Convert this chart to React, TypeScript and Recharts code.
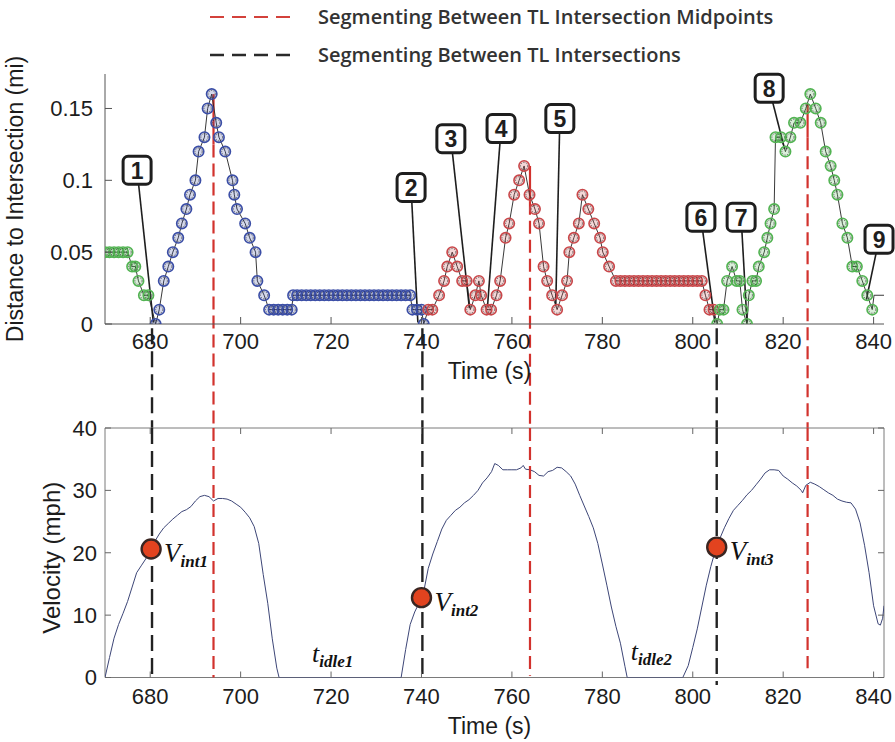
import React from 'react';
import {
  ComposedChart, Line, Scatter, XAxis, YAxis, ReferenceLine, ReferenceDot,
  ReferenceArea, Legend, Label,
} from 'recharts';

type Pt = [number, number];

// ---------- Top panel: distance to intersection (mi) vs time (s) ----------
const greenLeadIn: Pt[] = [
  [670, 0.05], [671, 0.05], [672, 0.05], [673, 0.05], [674, 0.05], [675, 0.05],
  [676, 0.04], [676.7, 0.04], [677.4, 0.03], [678.6, 0.02], [679.6, 0.02],
];
const blueSegment: Pt[] = [
  [681.2, 0], [682, 0.01], [683, 0.03], [684, 0.04], [685, 0.05], [686.2, 0.06], [687, 0.07],
  [688, 0.08], [688.8, 0.09], [690, 0.1], [690.7, 0.12], [692, 0.13], [692.7, 0.15], [693.6, 0.16],
  [694.6, 0.14], [695.2, 0.13], [696.6, 0.12], [698.2, 0.1], [698.6, 0.09], [699.2, 0.08],
  [701, 0.07], [702, 0.06], [703.3, 0.05], [703.7, 0.03], [705.2, 0.02], [706.3, 0.01],
  [707.3, 0.01], [708.3, 0.01], [709.3, 0.01], [710.3, 0.01], [711.3, 0.01], [711.6, 0.02],
  [712.5, 0.02], [713.5, 0.02], [714.5, 0.02], [715.5, 0.02], [716.5, 0.02], [717.5, 0.02],
  [718.5, 0.02], [719.5, 0.02], [720.5, 0.02], [721.5, 0.02], [722.5, 0.02], [723.5, 0.02],
  [724.5, 0.02], [725.5, 0.02], [726.5, 0.02], [727.5, 0.02], [728.5, 0.02], [729.5, 0.02],
  [730.5, 0.02], [731.5, 0.02], [732.5, 0.02], [733.5, 0.02], [734.5, 0.02], [735.5, 0.02],
  [736.5, 0.02], [737.5, 0.02], [738, 0.01], [739, 0.01], [740, 0.01], [740.5, 0],
];
const redSegment: Pt[] = [
  [741.5, 0.01], [742.4, 0.01], [743.9, 0.02], [745, 0.03], [745.7, 0.04], [746.8, 0.05],
  [747.9, 0.04], [749, 0.03], [750, 0.03], [750.8, 0.01], [751.9, 0.02], [752.7, 0.03],
  [753.2, 0.02], [754.4, 0.01], [755.4, 0.01], [756.6, 0.02], [757.4, 0.03], [758.6, 0.06],
  [759.4, 0.07], [760.5, 0.09], [761.6, 0.1], [762.7, 0.11], [763.9, 0.09], [765.1, 0.08],
  [766, 0.07], [767, 0.04], [767.8, 0.03], [768.9, 0.02], [770, 0.01], [771.1, 0.02],
  [772.2, 0.03], [772.7, 0.05], [773.7, 0.06], [774.8, 0.07], [775.6, 0.09], [776.9, 0.08],
  [778.2, 0.07], [779.5, 0.06], [780.1, 0.05], [781.5, 0.04], [783, 0.03], [784, 0.03],
  [785, 0.03], [786, 0.03], [787, 0.03], [788, 0.03], [789, 0.03], [790, 0.03], [791, 0.03],
  [792, 0.03], [793, 0.03], [794, 0.03], [795, 0.03], [796, 0.03], [797, 0.03], [798, 0.03],
  [799, 0.03], [800, 0.03], [801, 0.03], [802, 0.03], [802.8, 0.02], [803.7, 0.01], [804.6, 0.01],
];
const greenApproach: Pt[] = [
  [805.4, 0], [806, 0.01], [806.8, 0.01], [807.6, 0.03], [808.7, 0.04], [809.7, 0.03],
  [810.4, 0.03], [811, 0.01], [812, 0], [812.4, 0.02], [813.2, 0.03], [814, 0.03],
  [814.6, 0.04], [815.8, 0.05], [816.5, 0.06], [817.2, 0.07], [818, 0.08], [818.3, 0.13],
  [819.5, 0.13], [820.5, 0.12], [821.6, 0.13], [822.4, 0.14], [823.8, 0.14], [825, 0.15],
  [826, 0.16], [827.2, 0.15], [828.3, 0.14], [829.4, 0.12], [830.5, 0.11], [831.3, 0.1],
  [832, 0.09], [833.1, 0.07], [834.2, 0.06], [835.3, 0.04], [836.3, 0.04], [837.5, 0.03],
  [838.6, 0.02], [839.7, 0.01],
];
const traceTail: Pt[] = [[840.1, 0.02], [842.3, 0.02]];

// ---------- Bottom panel: velocity (mph) vs time (s) ----------
const velocityTrace: Pt[] = [
  [670, 0], [671, 3.2], [672, 6.3], [673, 8.5], [674, 10.3], [675, 12.2], [676, 14.5],
  [677, 16.8], [678, 17.9], [679, 19.0], [680, 20.3], [681, 21.8], [682, 23.0], [683, 24.0],
  [684, 24.7], [685, 25.4], [686, 26.0], [687, 26.6], [688, 26.9], [689, 27.4], [690, 28.3],
  [691, 29.0], [692, 29.2], [693, 29.0], [694, 28.3], [695, 28.7], [696, 28.7], [697, 28.6],
  [698, 28.3], [699, 27.8], [700, 27.3], [701, 26.5], [702, 25.6], [703, 24.2], [704, 21.5],
  [705, 16.5], [706, 11.9], [707, 6.2], [708, 1.5], [708.5, 0], [735.5, 0], [736.5, 4.5],
  [737.5, 8.5], [738.5, 10.5], [739.5, 12.0], [740.5, 13.8], [741.5, 17.5], [742.5, 19.8],
  [743.5, 21.8], [744.5, 23.8], [745.5, 25.2], [746.5, 26.0], [747.5, 26.8], [748.5, 27.3],
  [749.5, 28.0], [750.5, 28.5], [751.5, 29.2], [752.5, 30.0], [753.5, 31.2], [754.5, 32.0],
  [755.5, 33.0], [756.2, 34.3], [757, 34.0], [758, 33.3], [759, 33.3], [760, 33.3], [761, 33.3],
  [762, 33.6], [762.5, 34.0], [763, 33.4], [764, 33.3], [765, 33.0], [766, 32.4], [767, 32.3],
  [768, 33.0], [769, 33.2], [770, 33.7], [771, 33.6], [772, 33.0], [773, 32.3], [774, 31.0],
  [775, 29.2], [776, 27.5], [777, 25.8], [778, 24.0], [779, 21.5], [780, 18.2], [781, 14.8],
  [782, 11.3], [783, 8.2], [784, 5.5], [785, 1.8], [785.5, 0], [797.8, 0], [799, 1.9],
  [800, 4.8], [801, 7.8], [802, 11.3], [803, 14.8], [804, 17.8], [805, 20.4], [806, 22.3],
  [807, 24.0], [808, 25.5], [809, 26.8], [810, 27.6], [811, 28.4], [812, 29.3], [813, 30.0],
  [814, 30.9], [815, 31.8], [816, 32.8], [817, 33.3], [818, 33.3], [819, 33.2], [820, 32.3],
  [821, 31.8], [822, 31.2], [823, 30.7], [824, 30.0], [824.3, 29.6], [825, 30.8], [826, 31.3],
  [827, 31.0], [828, 30.6], [829, 30.1], [830, 29.6], [831, 29.2], [832, 28.6], [833, 28.3],
  [834, 28.1], [835, 28.0], [836, 27.0], [837, 24.8], [838, 21.2], [839, 16.8], [840, 11.5],
  [841, 8.6], [841.5, 8.4], [842, 9.5], [842.3, 11.5],
];

const intersectionTimes = [680.2, 740, 805.3];
const intersectionVelocities = [20.6, 12.8, 20.9];
const intersectionNames = ['int1', 'int2', 'int3'];

const idleTimes = [715.8, 786.3];
const idleHeights = [2.5, 2.8];
const idleNames = ['idle1', 'idle2'];

// ---------- segmentation markers ----------
const midpointTimes = [694, 764, 825.4];
const midpointPeak = [0.16, 0.11, 0.153];
const midpointDashFrom = [0.125, 0.085, 0.13];
const midpointVelEnd = [0, 0.3, 1.5];
const tlIntersectionTimes = [680.4, 740.2, 805.3];
const tlIntersectionVelEnd = [0, -0.3, -1.2];

// ---------- callout annotations (data coordinates) ----------
const calloutNumbers = ['1', '2', '3', '4', '5', '6', '7', '8', '9'];
const calloutBoxAt: Pt[] = [
  [677.1, 0.107], [737.7, 0.095], [746.5, 0.129], [757.6, 0.136], [770.6, 0.143],
  [801.8, 0.0743], [810.7, 0.0743], [816.9, 0.164], [841.2, 0.059],
];
const calloutTipAt: Pt[] = [
  [680.7, 0.001], [739.2, 0.001], [750.6, 0.011], [754.6, 0.012], [769.7, 0.013],
  [804.9, 0.001], [812, 0.001], [820.3, 0.122], [838.4, 0.017],
];

const timeTicks = [680, 700, 720, 740, 760, 780, 800, 820, 840];
const distanceTicks = [0, 0.05, 0.1, 0.15];
const velocityTicks = [0, 10, 20, 30, 40];

const legendEntries = [
  { label: 'Segmenting Between TL Intersection Midpoints', color: '#d3413b', width: 2 },
  { label: 'Segmenting Between TL Intersections', color: '#2a2a2a', width: 2.6 },
];

// ---------- styling constants ----------
const X_DOMAIN: [number, number] = [670, 842.3];
const SANS = 'Liberation Sans, Arial, sans-serif';
const SERIF = 'Liberation Serif, Times New Roman, serif';
const TICK_FILL = '#1c1c1c';
const RED = '#d2322d';
const BLACK_DASH = '#222';
const BOT_PLOT_W = 779;
const BOT_PLOT_H = 249.5;
const TOP_CUT = -0.0725; // bottom edge of the top panel svg, in distance units
const BOT_TOP = 40;

const toDist = (pts: Pt[]) => pts.map(([t, d]) => ({ t, d }));
const toVel = (pts: Pt[]) => pts.map(([t, v]) => ({ t, v }));

const traceData = toDist([...greenLeadIn, ...blueSegment, ...redSegment, ...greenApproach, ...traceTail]);
const velData = toVel(velocityTrace);
const intersectionData = intersectionTimes.map((t, i) => ({ t, v: intersectionVelocities[i], name: intersectionNames[i] }));

const makeMarker = (color: string) => (p: any) => {
  if (p.cx == null || p.cy == null) return <g />;
  return (
    <g>
      <circle cx={p.cx} cy={p.cy} r={5.2} fill={color} fillOpacity={0.22} stroke={color} strokeWidth={1.6} />
      <circle cx={p.cx} cy={p.cy} r={3.6} fill="none" stroke="#222" strokeWidth={0.6} strokeDasharray="1.4 1.2" />
    </g>
  );
};

const TopTimeTick = (p: any) => (
  <g>
    <line x1={p.x} x2={p.x} y1={p.y} y2={p.y - 7} stroke="#555" strokeWidth={1} />
    <text x={p.x} y={p.y + 25} textAnchor="middle" fontFamily={SANS} fontSize={22} fill={TICK_FILL}>
      {p.payload.value}
    </text>
  </g>
);

const DistTick = (p: any) => (
  <g>
    <line x1={p.x} x2={p.x + 7} y1={p.y} y2={p.y} stroke="#555" strokeWidth={1} />
    <text x={p.x - 12} y={p.y} dy="0.36em" textAnchor="end" fontFamily={SANS} fontSize={22} fill={TICK_FILL}>
      {String(p.payload.value)}
    </text>
  </g>
);

const BotTimeTick = (p: any) => (
  <g>
    <line x1={p.x} x2={p.x} y1={p.y} y2={p.y - 6} stroke="#666" strokeWidth={1} />
    <line x1={p.x} x2={p.x} y1={p.y - BOT_PLOT_H} y2={p.y - BOT_PLOT_H + 6} stroke="#666" strokeWidth={1} />
    <text x={p.x} y={p.y + 26} textAnchor="middle" fontFamily={SANS} fontSize={22} fill={TICK_FILL}>
      {p.payload.value}
    </text>
  </g>
);

const VelTick = (p: any) => (
  <g>
    <line x1={p.x} x2={p.x + 6} y1={p.y} y2={p.y} stroke="#666" strokeWidth={1} />
    <line x1={p.x + BOT_PLOT_W} x2={p.x + BOT_PLOT_W - 6} y1={p.y} y2={p.y} stroke="#666" strokeWidth={1} />
    <text x={p.x - 8} y={p.y} dy="0.36em" textAnchor="end" fontFamily={SANS} fontSize={22} fill={TICK_FILL}>
      {p.payload.value}
    </text>
  </g>
);

const timeTitle = (baselineOffset: number) => (props: any) => {
  const vb = props.viewBox || {};
  return (
    <text x={vb.x + vb.width / 2 - 5} y={vb.y + baselineOffset} textAnchor="middle" fontFamily={SANS} fontSize={23} fill={TICK_FILL}>
      Time (s)
    </text>
  );
};

const yTitle = (text: string, dx: number, dy: number, size: number) => (props: any) => {
  const vb = props.viewBox || {};
  const x = vb.x + dx;
  const y = vb.y + vb.height / 2 + dy;
  return (
    <text x={x} y={y} transform={`rotate(-90, ${x}, ${y})`} textAnchor="middle" fontFamily={SANS} fontSize={size} fill={TICK_FILL}>
      {text}
    </text>
  );
};

const calloutShape = (n: string) => (p: any) => (
  <g>
    <rect x={p.cx - 14} y={p.cy - 14} width={28} height={28} rx={5} fill="#fff" stroke="#1e1e1e" strokeWidth={3} />
    <text x={p.cx} y={p.cy} dy="0.36em" textAnchor="middle" fontFamily={SANS} fontWeight="bold" fontSize={23} fill="#1e1e1e">
      {n}
    </text>
  </g>
);

const intersectionShape = (p: any) => {
  if (p.cx == null || p.cy == null) return <g />;
  const name = p.payload?.name ?? '';
  return (
    <g>
      <circle cx={p.cx} cy={p.cy} r={9.5} fill="#e2431f" stroke="#3a2622" strokeWidth={2.4} />
      <text x={p.cx + 13} y={p.cy + 13} fontFamily={SERIF} fontStyle="italic" fontSize={27} fill="#111">
        V
        <tspan fontSize={17} fontWeight="bold" dy={5}>{name}</tspan>
      </text>
    </g>
  );
};

const idleShape = (name: string) => (p: any) => (
  <g>
    <text x={p.cx} y={p.cy} fontFamily={SERIF} fontStyle="italic" fontSize={26} fill="#111">
      t
      <tspan fontSize={17} fontWeight="bold" dy={5}>{name}</tspan>
    </text>
  </g>
);

const renderLegend = () => (
  <svg width={895} height={72} style={{ display: 'block' }}>
    {legendEntries.map((e, i) => (
      <g key={e.label}>
        <line x1={210} x2={292} y1={17 + i * 38} y2={17 + i * 38} stroke={e.color} strokeWidth={e.width} strokeDasharray="14 8" />
        <text x={318} y={24 + i * 38} fontFamily="Open Sans, sans-serif" fontWeight={600} fontSize={20} fill="#333">
          {e.label}
        </text>
      </g>
    ))}
  </svg>
);

export default function App() {
  return (
    <div style={{ position: 'absolute', left: 0, top: 0, width: 895, height: 742, background: '#fff', overflow: 'hidden' }}>
      <div style={{ position: 'absolute', left: 0, top: 0 }}>
        <ComposedChart width={895} height={428} margin={{ top: 74, right: 11, bottom: 64, left: 45 }}>
          <Legend
            content={renderLegend}
            layout="horizontal"
            verticalAlign="middle"
            align="center"
            wrapperStyle={{ position: 'absolute', top: 0, left: 0, width: 895, height: 72 }}
          />
          <XAxis
            type="number" dataKey="t" domain={X_DOMAIN} allowDataOverflow ticks={timeTicks} interval={0}
            tickSize={0} tickMargin={0} tickLine={false} tick={<TopTimeTick />} height={40}
            axisLine={{ stroke: '#555', strokeWidth: 1 }}
            label={<Label content={timeTitle(54.5)} />}
          />
          <YAxis
            type="number" dataKey="d" domain={[0, 0.174]} allowDataOverflow ticks={distanceTicks} interval={0}
            tickSize={0} tickMargin={0} tickLine={false} tick={<DistTick />} width={60}
            axisLine={{ stroke: '#555', strokeWidth: 1 }}
            label={<Label content={yTitle('Distance to Intersection (mi)', -22, 0, 23)} />}
          />
          {midpointTimes.map((t, i) => (
            <ReferenceLine key={`mp-solid-${i}`} ifOverflow="visible" stroke={RED} strokeWidth={2.2}
              segment={[{ x: t, y: midpointPeak[i] }, { x: t, y: midpointDashFrom[i] }]} />
          ))}
          {midpointTimes.map((t, i) => (
            <ReferenceLine key={`mp-dash-${i}`} ifOverflow="visible" stroke={RED} strokeWidth={2.2} strokeDasharray="13 6"
              segment={[{ x: t, y: midpointDashFrom[i] }, { x: t, y: TOP_CUT }]} />
          ))}
          {tlIntersectionTimes.map((t, i) => (
            <ReferenceLine key={`tl-dash-${i}`} ifOverflow="visible" stroke={BLACK_DASH} strokeWidth={2.4} strokeDasharray="16 7"
              segment={[{ x: t, y: -0.003 }, { x: t, y: TOP_CUT }]} />
          ))}
          <Scatter data={toDist(greenLeadIn)} dataKey="d" shape={makeMarker('#52b352')} isAnimationActive={false} />
          <Scatter data={toDist(blueSegment)} dataKey="d" shape={makeMarker('#3b4ea6')} isAnimationActive={false} />
          <Scatter data={toDist(redSegment)} dataKey="d" shape={makeMarker('#c9474a')} isAnimationActive={false} />
          <Scatter data={toDist(greenApproach)} dataKey="d" shape={makeMarker('#52b352')} isAnimationActive={false} />
          <Line data={traceData} dataKey="d" type="linear" stroke="#222" strokeWidth={0.9} dot={false} activeDot={false} isAnimationActive={false} />
          {calloutNumbers.map((n, i) => (
            <ReferenceLine key={`co-line-${n}`} ifOverflow="visible" stroke="#1e1e1e" strokeWidth={1.6}
              segment={[{ x: calloutBoxAt[i][0], y: calloutBoxAt[i][1] }, { x: calloutTipAt[i][0], y: calloutTipAt[i][1] }]} />
          ))}
          {calloutNumbers.map((n, i) => (
            <ReferenceDot key={`co-box-${n}`} x={calloutBoxAt[i][0]} y={calloutBoxAt[i][1]} r={14} ifOverflow="visible" shape={calloutShape(n)} />
          ))}
        </ComposedChart>
      </div>
      <div style={{ position: 'absolute', left: 0, top: 396 }}>
        <ComposedChart width={895} height={346} margin={{ top: 32, right: 11, bottom: 24.5, left: 45 }}>
          <XAxis
            type="number" dataKey="t" domain={X_DOMAIN} allowDataOverflow ticks={timeTicks} interval={0}
            tickSize={0} tickMargin={0} tickLine={false} tick={<BotTimeTick />} height={40} axisLine={false}
            label={<Label content={timeTitle(56.5)} />}
          />
          <YAxis
            type="number" dataKey="v" domain={[0, 40]} allowDataOverflow ticks={velocityTicks} interval={0}
            tickSize={0} tickMargin={0} tickLine={false} tick={<VelTick />} width={60} axisLine={false}
            label={<Label content={yTitle('Velocity (mph)', 15, 5, 24)} />}
          />
          <ReferenceArea x1={X_DOMAIN[0]} x2={X_DOMAIN[1]} y1={0} y2={40} fill="none" fillOpacity={0} stroke="#7a7a7a" strokeWidth={1} ifOverflow="visible" />
          <Line data={velData} dataKey="v" type="linear" stroke="#3d4677" strokeWidth={1} dot={false} activeDot={false} isAnimationActive={false} />
          {midpointTimes.map((t, i) => (
            <ReferenceLine key={`bmp-${i}`} ifOverflow="visible" stroke={RED} strokeWidth={2.2} strokeDasharray="13 6"
              segment={[{ x: t, y: BOT_TOP }, { x: t, y: midpointVelEnd[i] }]} />
          ))}
          {tlIntersectionTimes.map((t, i) => (
            <ReferenceLine key={`btl-${i}`} ifOverflow="visible" stroke={BLACK_DASH} strokeWidth={2.4} strokeDasharray="16 7"
              segment={[{ x: t, y: BOT_TOP }, { x: t, y: tlIntersectionVelEnd[i] }]} />
          ))}
          {idleNames.map((name, i) => (
            <ReferenceDot key={`idle-${name}`} x={idleTimes[i]} y={idleHeights[i]} r={1} ifOverflow="visible" shape={idleShape(name)} />
          ))}
          <Scatter data={intersectionData} dataKey="v" shape={intersectionShape} isAnimationActive={false} />
        </ComposedChart>
      </div>
    </div>
  );
}
